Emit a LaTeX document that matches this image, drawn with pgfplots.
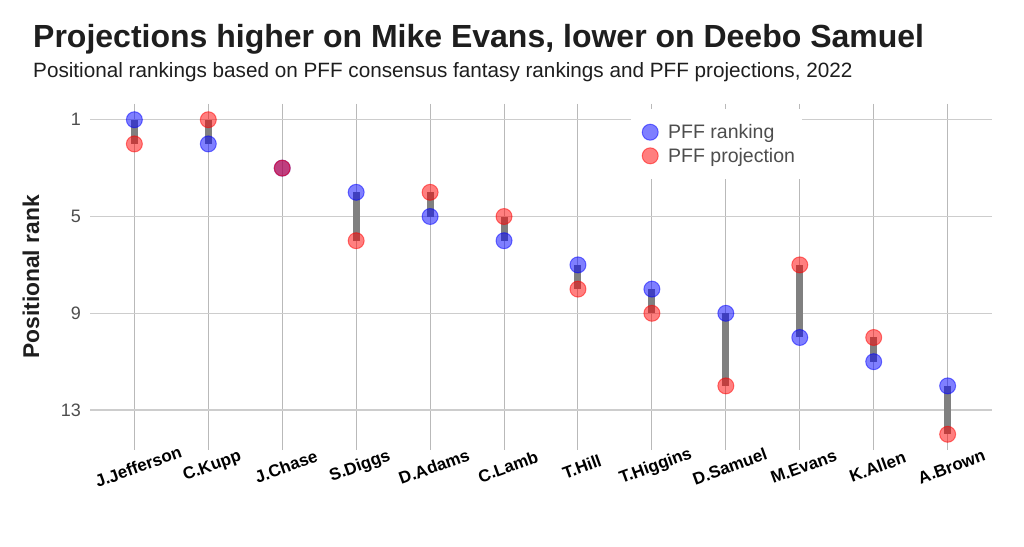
\documentclass[border=0pt]{standalone}
\usepackage{fontspec}
\setmainfont{Liberation Sans}
\usepackage{pgfplots}
\pgfplotsset{compat=1.18}
\usepackage{pgfplotstable}

\definecolor{titlec}{RGB}{30,30,30}
\definecolor{tickc}{RGB}{77,77,77}
\definecolor{vgrid}{RGB}{185,185,185}
\definecolor{hgrid}{RGB}{205,205,205}
\definecolor{segc}{RGB}{128,128,128}

% x = player position, rank = PFF ranking, proj = PFF projection
\pgfplotstableread{
x rank proj
0 1 2
1 2 1
2 3 3
3 4 6
4 5 4
5 6 5
6 7 8
7 8 9
8 9 12
9 10 7
10 11 10
11 12 14
}\ranks

\begin{document}
\begin{tikzpicture}[x=1pt,y=1pt]
\path[use as bounding box, fill=white] (0pt,0pt) rectangle (1024pt,546pt);

\node[anchor=base west, inner sep=0, text=titlec,
      font=\fontsize{32}{36}\selectfont\bfseries] at (33pt,498pt)
  {Projections higher on Mike Evans, lower on Deebo Samuel};
\node[anchor=base west, inner sep=0, text=titlec,
      font=\fontsize{20.7}{24}\selectfont] at (33pt,468pt)
  {Positional rankings based on PFF consensus fantasy rankings and PFF projections, 2022};
\node[rotate=90, inner sep=0, text=titlec,
      font=\fontsize{22.8}{26}\selectfont\bfseries] at (31pt,269pt) {Positional rank};

\begin{axis}[
    at={(90pt,96pt)}, anchor=south west,
    scale only axis, width=902pt, height=346pt,
    xmin=-0.6, xmax=11.6,
    ymin=0.35, ymax=14.65,
    y dir=reverse,
    axis line style={draw=none},
    major tick length=0,
    xtick={0,...,11},
    xticklabels={J.Jefferson,C.Kupp,J.Chase,S.Diggs,D.Adams,C.Lamb,T.Hill,T.Higgins,D.Samuel,M.Evans,K.Allen,A.Brown},
    ytick={1,5,9,13},
    /pgf/number format/assume math mode=true,
    xmajorgrids, ymajorgrids,
    x grid style={vgrid, line width=1pt},
    y grid style={hgrid, line width=1.3pt},
    xticklabel style={anchor=center, rotate=20, inner sep=0, yshift=-17pt, xshift=-2pt,
        font=\fontsize{17}{20}\selectfont\bfseries, text=black},
    yticklabel style={anchor=east, inner sep=0, xshift=-9pt,
        font=\fontsize{18}{21}\selectfont, text=tickc},
    legend style={at={(rel axis cs:0.5998,0.985)}, anchor=north west,
        draw=none, fill=white, inner xsep=5pt, inner ysep=13pt,
        row sep=4pt, font=\fontsize{19.5}{22}\selectfont, text=tickc,
        cells={anchor=west}},
    legend image code/.code={
        \path[draw=none, fill=none] (0pt,-1pt) rectangle (30pt,1pt);
        \draw[mark repeat=2,mark phase=2,#1]
        plot coordinates {(0pt,0pt) (14pt,0pt) (28pt,0pt)};},
]
\addplot[draw=none, forget plot,
    error bars/.cd, y dir=plus, y explicit, error mark=none,
    error bar style={draw=segc, line width=7pt}]
    table[x=x, y=rank, y error expr=\thisrow{proj}-\thisrow{rank}] {\ranks};

\addplot[only marks, mark=*, mark size=8pt,
    mark options={draw=blue, fill=blue, fill opacity=0.5, draw opacity=0.5, line width=1pt}]
    table[x=x, y=rank] {\ranks};
\addlegendentry{PFF ranking}

\addplot[only marks, mark=*, mark size=8pt,
    mark options={draw=red, fill=red, fill opacity=0.5, draw opacity=0.5, line width=1pt}]
    table[x=x, y=proj] {\ranks};
\addlegendentry{PFF projection}
\end{axis}
\end{tikzpicture}
\end{document}
